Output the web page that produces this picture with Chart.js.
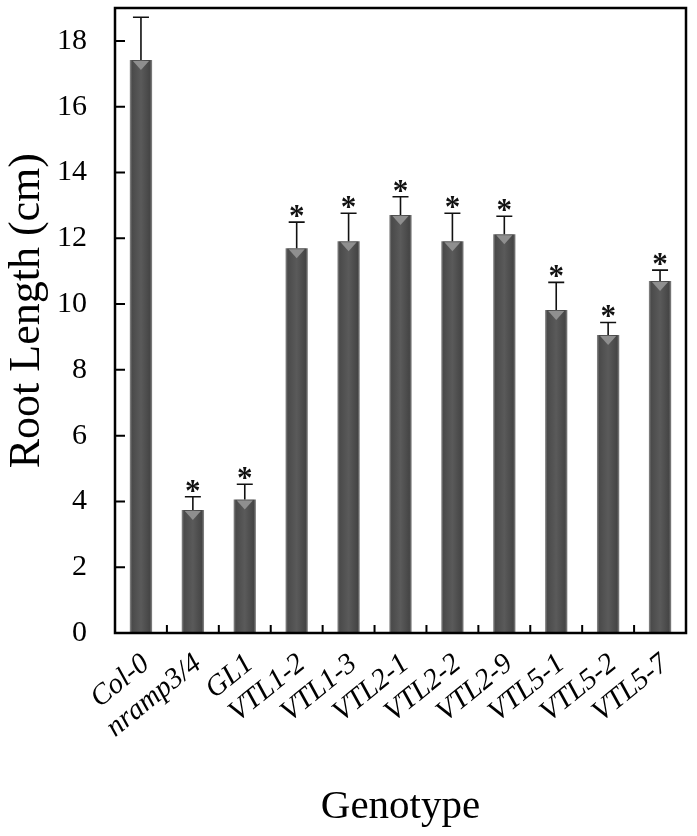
<!DOCTYPE html>
<html>
<head>
<meta charset="utf-8">
<script src="https://cdn.jsdelivr.net/npm/chart.js@4/dist/chart.umd.min.js"></script>
<style>
  html, body { margin: 0; padding: 0; background: #fff; }
  #wrap { width: 697px; height: 836px; }
</style>
</head>
<body>
<div id="wrap"><canvas id="rootChart"></canvas></div>
<script>
/* ------------------
  data
-------------------*/
var genotypes = ['Col-0', 'nramp3/4', 'GL1', 'VTL1-2', 'VTL1-3', 'VTL2-1', 'VTL2-2', 'VTL2-9', 'VTL5-1', 'VTL5-2', 'VTL5-7'];
var rootLength = [17.42, 3.74, 4.06, 11.70, 11.91, 12.71, 11.91, 12.12, 9.82, 9.06, 10.70];
var rootError = [1.30, 0.40, 0.46, 0.79, 0.85, 0.55, 0.85, 0.55, 0.84, 0.38, 0.33];
var significant = [false, true, true, true, true, true, true, true, true, true, true];
var yTicks = [0, 2, 4, 6, 8, 10, 12, 14, 16, 18];

var serif = "'Liberation Serif', 'Times New Roman', serif";
var BAR_PCT = 0.43;

// horizontal shading for each bar, worked out from the x scale
function barShade(c) {
  var chart = c.chart;
  var xs = chart.scales.x;
  if (!xs || !chart.chartArea) return '#555';
  var cx = xs.getPixelForValue(c.dataIndex);
  var half = (xs.width / genotypes.length) * BAR_PCT / 2;
  var g = chart.ctx.createLinearGradient(cx - half, 0, cx + half, 0);
  g.addColorStop(0, '#8e8e8e');
  g.addColorStop(0.1, '#4a4a4a');
  g.addColorStop(0.5, '#5a5a5a');
  g.addColorStop(0.9, '#454545');
  g.addColorStop(1, '#8a8a8a');
  return g;
}

/* ------------------
  top bevel, error bars, stars
-------------------*/
var barExtras = {
  id: 'barExtras',
  afterDatasetsDraw: function (chart) {
    var ctx = chart.ctx;
    var y = chart.scales.y;
    ctx.save();
    chart.getDatasetMeta(0).data.forEach(function (bar, i) {
      var half = bar.width * 0.36;
      ctx.fillStyle = '#8f8f8f';
      ctx.beginPath();
      ctx.moveTo(bar.x - half, bar.y + 1);
      ctx.lineTo(bar.x + half, bar.y + 1);
      ctx.lineTo(bar.x, bar.y + 10);
      ctx.closePath();
      ctx.fill();

      var top = y.getPixelForValue(rootLength[i] + rootError[i]);
      ctx.strokeStyle = '#111';
      ctx.lineWidth = 1.6;
      ctx.beginPath();
      ctx.moveTo(bar.x, bar.y);
      ctx.lineTo(bar.x, top);
      ctx.moveTo(bar.x - 8, top);
      ctx.lineTo(bar.x + 8, top);
      ctx.stroke();

      if (significant[i]) {
        ctx.fillStyle = '#111';
        ctx.font = 'bold 31px ' + serif;
        ctx.textAlign = 'center';
        ctx.textBaseline = 'alphabetic';
        ctx.fillText('*', bar.x, top + 4);
      }
    });
    ctx.restore();
  }
};

/* ------------------
  frame, inward tick marks, y title
-------------------*/
var frame = {
  id: 'frame',
  afterDraw: function (chart) {
    var ctx = chart.ctx;
    var a = chart.chartArea;
    var x = chart.scales.x, y = chart.scales.y;
    ctx.save();
    ctx.strokeStyle = '#000';
    ctx.lineWidth = 2.5;
    ctx.strokeRect(a.left, a.top, a.right - a.left, a.bottom - a.top);
    ctx.lineWidth = 2;
    ctx.beginPath();
    yTicks.forEach(function (v) {
      var py = y.getPixelForValue(v);
      ctx.moveTo(a.left, py);
      ctx.lineTo(a.left + 10, py);
    });
    for (var i = 1; i < genotypes.length; i++) {
      var px = (x.getPixelForValue(i - 1) + x.getPixelForValue(i)) / 2;
      ctx.moveTo(px, a.bottom);
      ctx.lineTo(px, a.bottom - 8);
    }
    ctx.stroke();

    // y title sits a bit above the middle of the axis in the original
    ctx.translate(27, y.getPixelForValue(9.8));
    ctx.rotate(-Math.PI / 2);
    ctx.fillStyle = '#000';
    ctx.font = '44px ' + serif;
    ctx.textAlign = 'center';
    ctx.textBaseline = 'middle';
    ctx.fillText('Root Length (cm)', 0, 0);
    ctx.restore();
  }
};

new Chart(document.getElementById('rootChart'), {
  type: 'bar',
  data: {
    labels: genotypes,
    datasets: [{
      label: 'Root Length',
      data: rootLength,
      backgroundColor: barShade,
      borderWidth: 0,
      barPercentage: BAR_PCT,
      categoryPercentage: 1.0
    }]
  },
  options: {
    responsive: true,
    maintainAspectRatio: false,
    animation: false,
    layout: { padding: { top: 8, right: 11, left: 0, bottom: 0 } },
    plugins: {
      legend: { display: false },
      tooltip: { enabled: false }
    },
    scales: {
      x: {
        grid: { display: false, drawTicks: false },
        border: { display: false },
        ticks: {
          color: '#000',
          font: { family: serif, size: 29, style: 'italic' },
          autoSkip: false,
          minRotation: 39,
          maxRotation: 39,
          labelOffset: 5,
          padding: 14
        },
        title: {
          display: true,
          text: 'Genotype',
          color: '#000',
          font: { family: serif, size: 41 },
          padding: { top: 0, bottom: 4 }
        },
        afterFit: function (s) {
          s.height = 203;
          s.paddingLeft = 0;
          s.paddingRight = 0;
        }
      },
      y: {
        min: 0,
        max: 19,
        grid: { display: false, drawTicks: false },
        border: { display: false },
        afterBuildTicks: function (s) {
          s.ticks = yTicks.map(function (v) { return { value: v }; });
        },
        ticks: {
          color: '#000',
          font: { family: serif, size: 30 },
          padding: 28
        },
        title: { display: false },
        afterFit: function (s) {
          s.width = 115;
          s.paddingTop = 0;
          s.paddingBottom = 0;
        }
      }
    }
  },
  plugins: [barExtras, frame]
});
</script>
</body>
</html>
